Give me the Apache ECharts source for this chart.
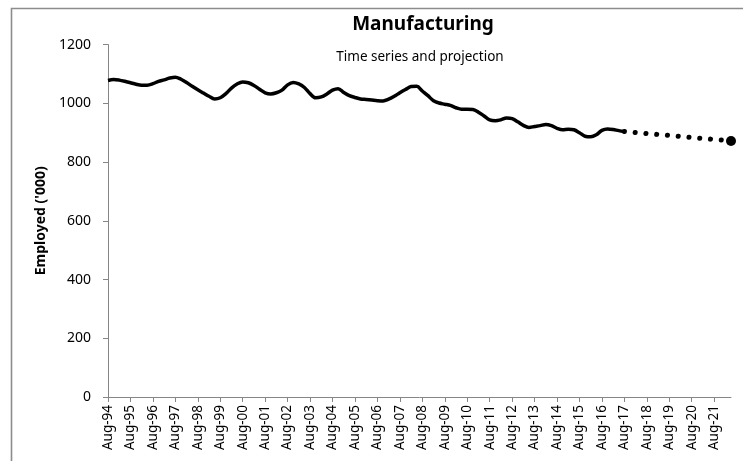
<!DOCTYPE html>
<html>
<head>
<meta charset="utf-8">
<script src="https://cdn.jsdelivr.net/npm/echarts@6/dist/echarts.min.js"></script>
<style>
html,body{margin:0;padding:0;background:#fff;}
#chart{width:743px;height:461px;}
</style>
</head>
<body>
<div id="chart"></div>
<script>
// Quarterly categories Aug-94 .. May-22
var months = ['Aug','Nov','Feb','May'];
var categories = [];
(function(){
  var y = 1994;
  for (var i = 0; i < 112; i++) {
    var m = months[i % 4];
    if (m === 'Feb' && i > 0) y++;
    categories.push(m + '-' + String(y % 100).padStart(2, '0'));
  }
})();

// Employed ('000), quarterly, Aug-94 .. Aug-17
var actual = [
  1078,1081,1079,1075,1070,1065,1062,1062,1067,1075,
  1080,1086,1089,1082,1071,1058,1046,1035,1024,1015,
  1019,1033,1052,1066,1073,1070,1061,1048,1036,1032,
  1036,1045,1063,1071,1066,1054,1033,1019,1022,1032,
  1045,1050,1037,1026,1020,1015,1013,1011,1009,1008,
  1014,1024,1036,1047,1057,1058,1042,1026,1009,1001,
  997,993,985,980,980,979,970,957,944,941,
  944,950,948,937,925,918,921,924,928,924,
  915,910,912,910,900,888,886,893,908,913,
  911,907,904
];
// Projection: from Aug-17 to May-22
var projStartIndex = 92;
var projStart = 904;
var projEnd = 872;

var yTicks = { min: 0, max: 1200, interval: 200 };

var actualData = categories.map(function(c, i){ return i < actual.length ? actual[i] : null; });
var projData = categories.map(function(c, i){
  if (i === projStartIndex) return projStart;
  if (i === categories.length - 1) return { value: projEnd, symbol: 'circle', symbolSize: 10 };
  return null;
});

var chart = echarts.init(document.getElementById('chart'), null, { renderer: 'canvas' });
var fontFam = '"Noto Sans", "Open Sans", sans-serif';
chart.setOption({
  animation: false,
  backgroundColor: '#ffffff',
  graphic: [{
    type: 'rect',
    shape: { x: 11.5, y: 8.5, width: 800, height: 500 },
    style: { fill: 'none', stroke: '#8c8c8c', lineWidth: 1.6 },
    silent: true
  }],
  title: [
    { text: 'Manufacturing', left: 418, top: 10, textAlign: 'center',
      textStyle: { fontFamily: fontFam, fontSize: 19, fontWeight: 'bold', color: '#000' } },
    { text: 'Time series and projection', left: 415, top: 45, textAlign: 'center',
      textStyle: { fontFamily: fontFam, fontSize: 13.5, fontWeight: 'normal', color: '#000' } }
  ],
  grid: { left: 108, right: 12, top: 44.6, bottom: 64, containLabel: false },
  xAxis: {
    type: 'category',
    data: categories,
    boundaryGap: false,
    axisLine: { lineStyle: { color: '#868686', width: 1 } },
    axisTick: { show: true, interval: 3, length: 5, lineStyle: { color: '#868686' } },
    axisLabel: { interval: 3, rotate: 90, margin: 8, color: '#000',
      fontFamily: fontFam, fontSize: 13.5 },
    splitLine: { show: false }
  },
  yAxis: {
    type: 'value',
    min: yTicks.min, max: yTicks.max, interval: yTicks.interval,
    name: "Employed ('000)",
    nameLocation: 'middle',
    nameGap: 59,
    nameTextStyle: { fontFamily: fontFam, fontSize: 14, fontWeight: 'bold', color: '#000' },
    axisLine: { show: true, lineStyle: { color: '#868686', width: 1 } },
    axisTick: { show: true, length: 5, lineStyle: { color: '#868686' } },
    axisLabel: { margin: 17, color: '#000', fontFamily: fontFam, fontSize: 14,
      formatter: function(v){ return String(v); } },
    splitLine: { show: false }
  },
  series: [
    {
      name: 'Time series',
      type: 'line',
      data: actualData,
      smooth: 0.35,
      symbol: 'none',
      lineStyle: { color: '#000', width: 3.5 },
      z: 3
    },
    {
      name: 'Projection',
      type: 'line',
      data: projData,
      connectNulls: true,
      symbol: 'none',
      showAllSymbol: true,
      itemStyle: { color: '#000' },
      lineStyle: { color: '#000', width: 5, type: [0.1, 10.7], cap: 'round' },
      z: 2
    }
  ]
});
</script>
</body>
</html>
